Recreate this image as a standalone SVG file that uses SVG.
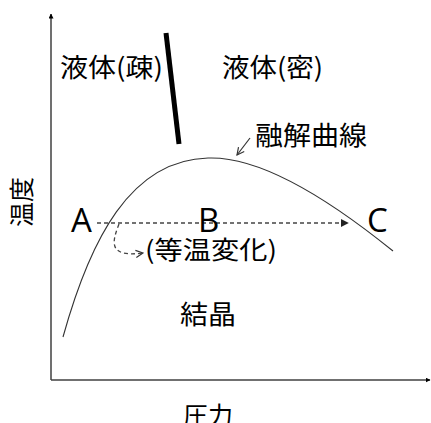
<svg xmlns="http://www.w3.org/2000/svg" width="431" height="423" viewBox="0 0 431 423">
<style>
.jp{font-family:"Noto Sans CJK JP","Noto Sans",sans-serif;fill:#000}
.lat{font-family:"Open Sans","Liberation Sans",sans-serif;fill:#000}
.axis{stroke:#404040;stroke-width:1.5;fill:none}
.curve{stroke:#333;stroke-width:1.1;fill:none}
.dash{stroke:#444;stroke-width:1.3;stroke-dasharray:4 3;fill:none}
</style>
<defs>
<marker id="tri" viewBox="0 0 10 10" refX="9" refY="5" markerWidth="5" markerHeight="5" orient="auto" markerUnits="userSpaceOnUse">
<path d="M0,0 L10,5 L0,10 z" fill="#000"/>
</marker>
<marker id="triS" viewBox="0 0 10 10" refX="9" refY="5" markerWidth="8" markerHeight="8" orient="auto" markerUnits="userSpaceOnUse">
<path d="M0,0 L10,5 L0,10 z" fill="#222"/>
</marker>
<marker id="open" viewBox="0 0 10 10" refX="9" refY="5" markerWidth="9" markerHeight="9" orient="auto" markerUnits="userSpaceOnUse">
<path d="M1,1 L9,5 L1,9" fill="none" stroke="#333" stroke-width="1.3"/>
</marker>
</defs>
<g id="axes">
<line class="axis" x1="51" y1="380" x2="51" y2="14" marker-end="url(#tri)"/>
<line class="axis" x1="51" y1="380" x2="430" y2="380" marker-end="url(#tri)"/>
</g>
<g id="connectors">
<path class="curve" d="M63,337 C90,240 130,160 208,158 C260,156 330,200 393,251"/>
<line x1="166" y1="33" x2="179" y2="144" stroke="#000" stroke-width="5"/>
<line class="dash" x1="97" y1="223" x2="348" y2="223" marker-end="url(#triS)"/>
<path class="dash" d="M119,224 C113,240 106,258 143,253" marker-end="url(#open)"/>
<line x1="250" y1="138" x2="237" y2="155" stroke="#333" stroke-width="1.2" marker-end="url(#open)"/>
</g>
<g id="label-temp"><text class="jp" font-size="25" transform="translate(31,202) rotate(-90)" text-anchor="middle">温度</text></g>
<g id="label-pressure"><text class="jp" font-size="25" x="208" y="425" text-anchor="middle">圧力</text></g>
<g id="liquid-sparse"><text class="jp" font-size="26" x="60" y="77" textLength="103" lengthAdjust="spacingAndGlyphs">液体(疎)</text></g>
<g id="liquid-dense"><text class="jp" font-size="26" x="222" y="77" textLength="101" lengthAdjust="spacingAndGlyphs">液体(密)</text></g>
<g id="melting-curve"><text class="jp" font-size="26" x="255" y="145" textLength="112" lengthAdjust="spacingAndGlyphs">融解曲線</text></g>
<g id="point-A"><text class="lat" font-size="33" x="71" y="232">A</text></g>
<g id="point-B"><text class="lat" font-size="33" x="198" y="232">B</text></g>
<g id="point-C"><text class="lat" font-size="33" x="367" y="232">C</text></g>
<g id="isothermal"><text class="jp" font-size="25" x="145" y="259" textLength="132" lengthAdjust="spacingAndGlyphs">(等温変化)</text></g>
<g id="crystal"><text class="jp" font-size="26" x="180" y="324" textLength="56" lengthAdjust="spacingAndGlyphs">結晶</text></g>
</svg>
